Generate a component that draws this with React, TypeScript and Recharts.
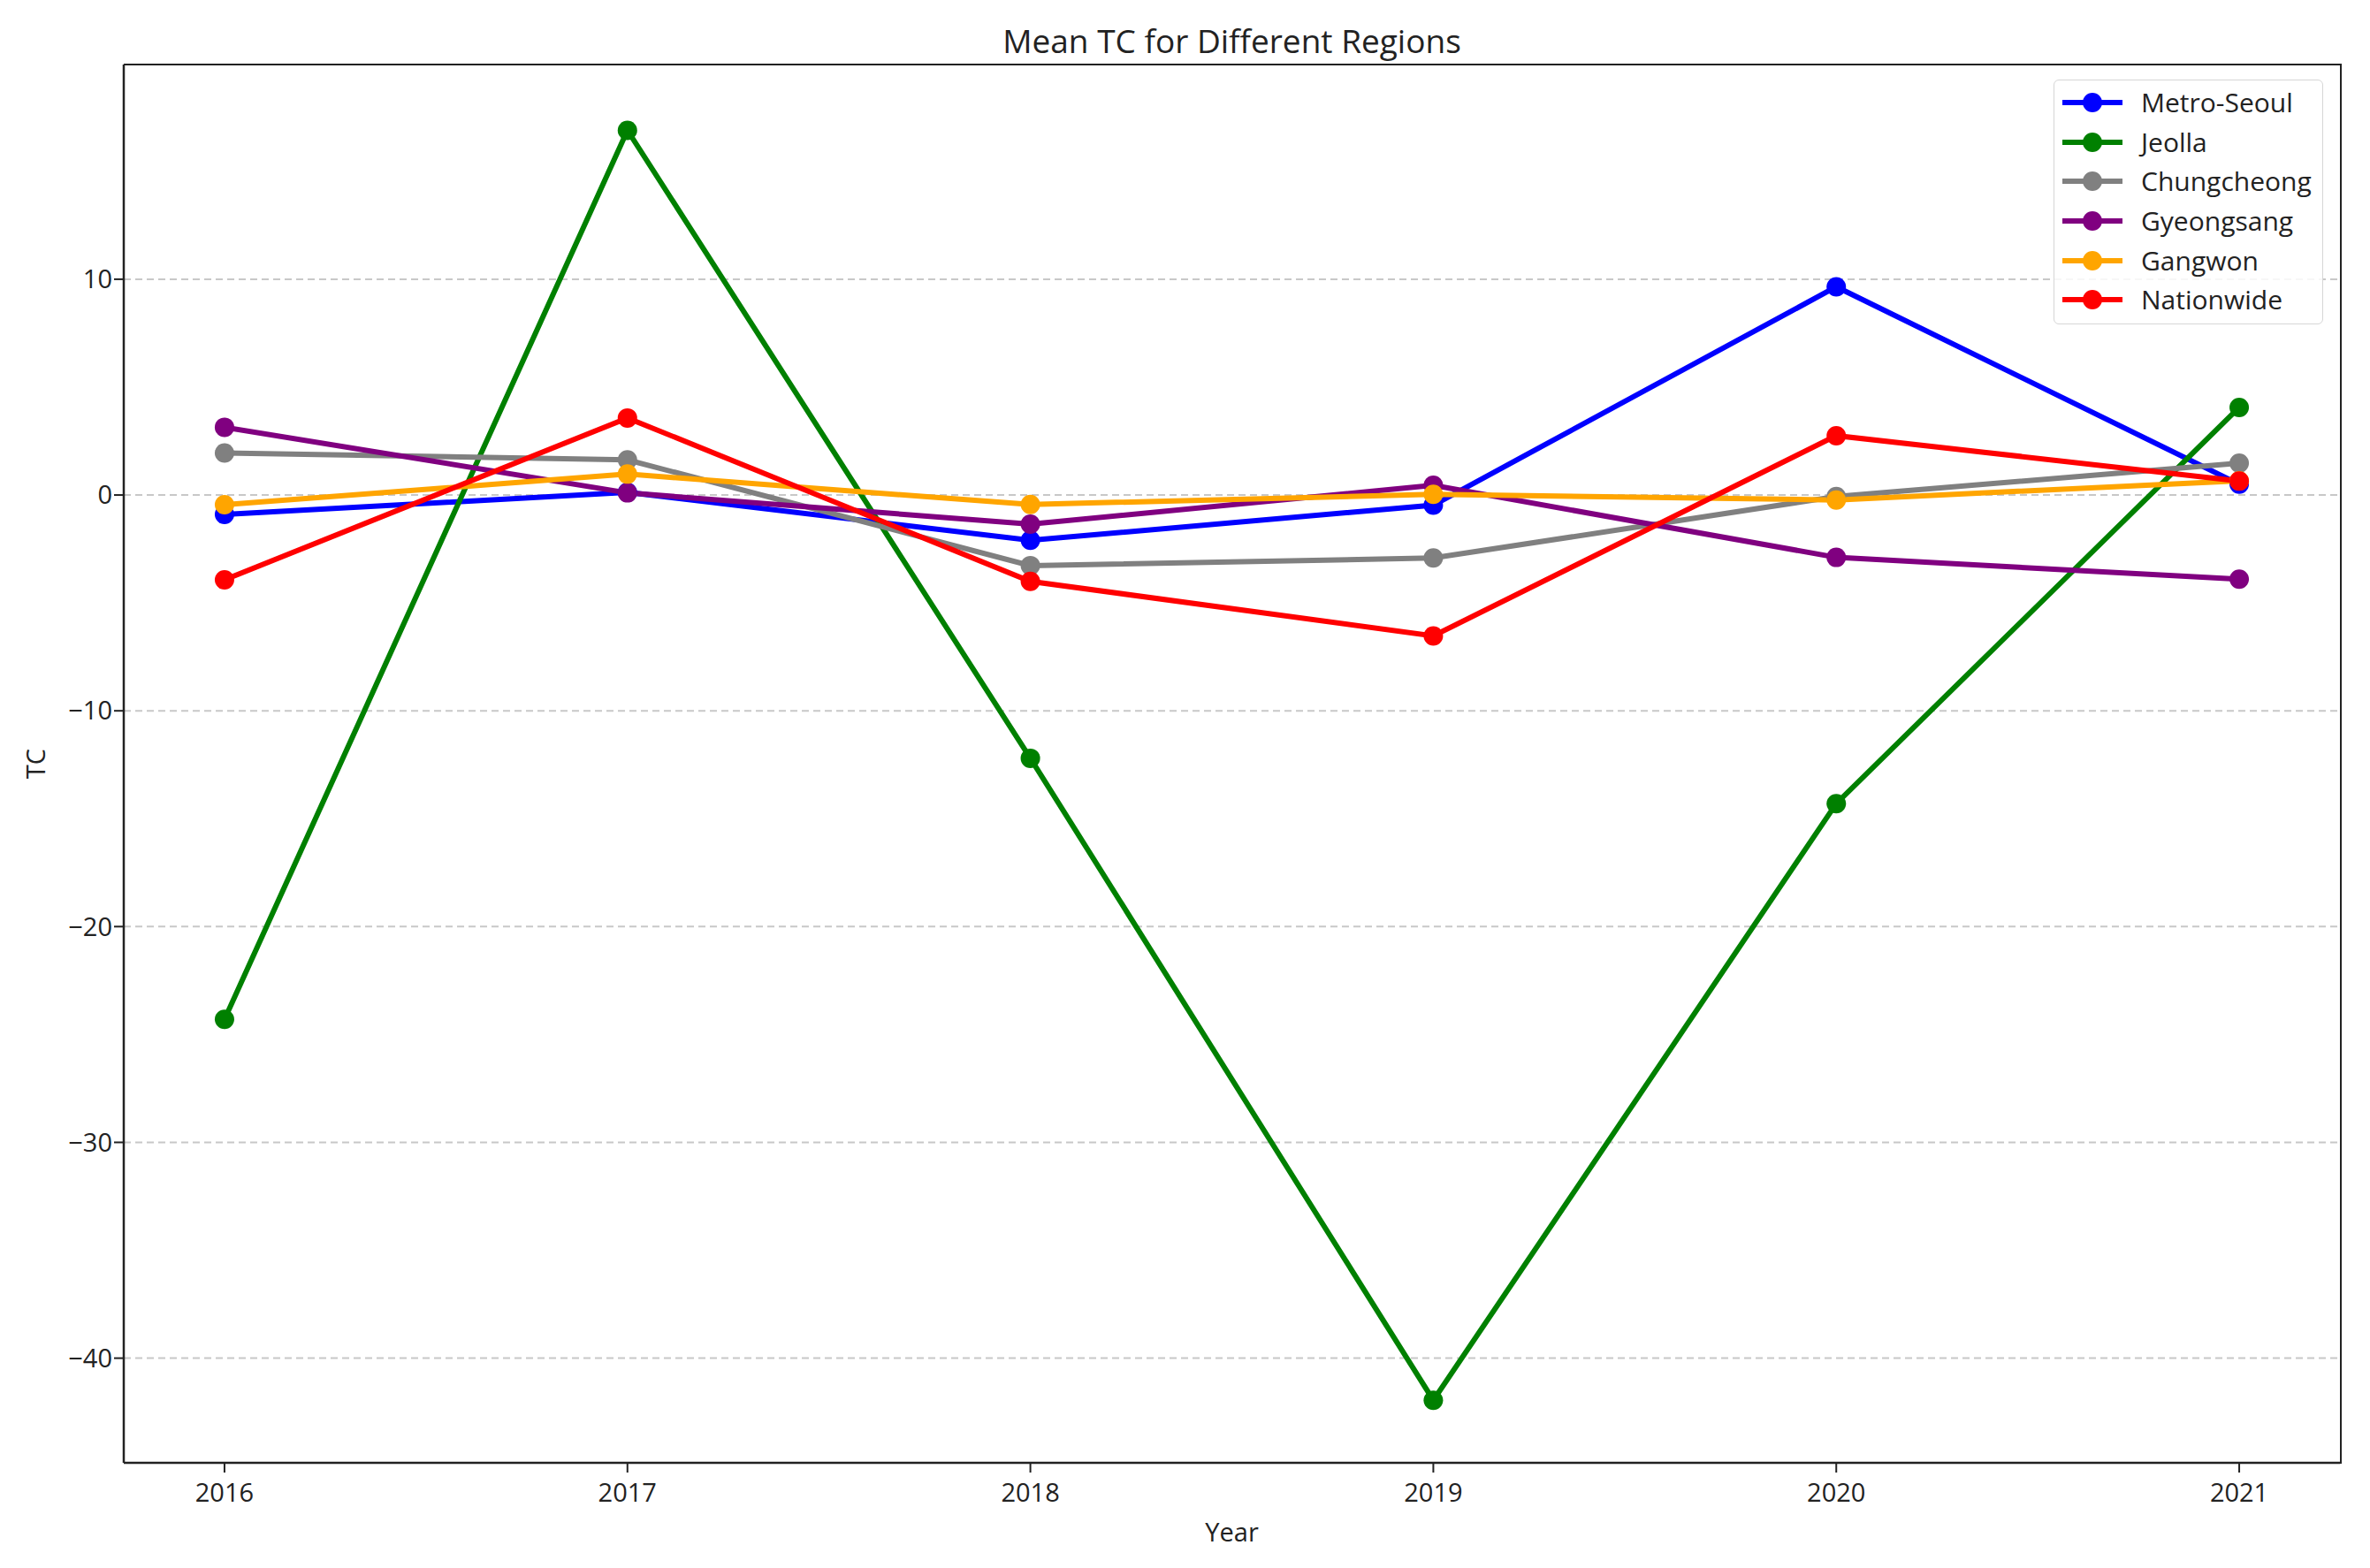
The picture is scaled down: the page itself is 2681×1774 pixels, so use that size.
import React from "react";
import { LineChart, Line, XAxis, YAxis, CartesianGrid } from "recharts";

const years = [2016, 2017, 2018, 2019, 2020, 2021];

const metroSeoul = [-0.9, 0.12, -2.1, -0.47, 9.65, 0.5];
const jeolla = [-24.3, 16.9, -12.2, -41.95, -14.3, 4.06];
const chungcheong = [1.95, 1.63, -3.27, -2.92, -0.07, 1.48];
const gyeongsang = [3.14, 0.1, -1.35, 0.45, -2.89, -3.9];
const gangwon = [-0.45, 0.97, -0.44, 0.03, -0.23, 0.66];
const nationwide = [-3.93, 3.57, -4.0, -6.53, 2.75, 0.65];

const yTicks = [-40, -30, -20, -10, 0, 10];

const series = [
  { key: "Metro-Seoul", color: "#0000ff", values: metroSeoul },
  { key: "Jeolla", color: "#008000", values: jeolla },
  { key: "Chungcheong", color: "#808080", values: chungcheong },
  { key: "Gyeongsang", color: "#800080", values: gyeongsang },
  { key: "Gangwon", color: "#ffa500", values: gangwon },
  { key: "Nationwide", color: "#ff0000", values: nationwide },
];

const data = years.map((year, i) => {
  const row: Record<string, number> = { year };
  series.forEach((s) => {
    row[s.key] = s.values[i];
  });
  return row;
});

const FONT = "'Open Sans', 'DejaVu Sans', sans-serif";
const TEXT = "#222";
const xDomain = [2015.75, 2021.25];
const yDomain = [-44.85, 19.95];

// plot area inside the chart svg
const PLOT = { left: 132, top: 65, right: 2639, bottom: 1647 };

// matplotlib-style unicode minus
const fmtY = (v: number) => (v < 0 ? `\u2212${Math.abs(v)}` : `${v}`);

const LegendBox = () => (
  <div
    style={{
      position: "absolute",
      left: 2315,
      top: 82,
      width: 305,
      height: 277,
      boxSizing: "border-box",
      border: "1.5px solid #d6d6d6",
      borderRadius: 6,
      background: "rgba(255,255,255,0.85)",
      paddingTop: 3,
    }}
  >
    {series.map((s) => (
      <div
        key={s.key}
        style={{ display: "flex", alignItems: "center", height: 44.6 }}
      >
        <svg width={90} height={30} style={{ flex: "none" }}>
          <line x1={9} y1={15} x2={77} y2={15} stroke={s.color} strokeWidth={6} />
          <circle cx={43} cy={15} r={11} fill={s.color} />
        </svg>
        <span
          style={{
            fontFamily: FONT,
            fontSize: 30,
            color: TEXT,
            marginLeft: 8,
            lineHeight: 1,
          }}
        >
          {s.key}
        </span>
      </div>
    ))}
  </div>
);

export default function App() {
  return (
    <div style={{ position: "relative", width: 2665, height: 1758 }}>
      <div
        style={{
          position: "absolute",
          left: PLOT.left,
          width: PLOT.right - PLOT.left,
          top: 12,
          textAlign: "center",
          fontFamily: FONT,
          fontSize: 37,
          color: TEXT,
        }}
      >
        Mean TC for Different Regions
      </div>
      <LineChart
        width={2665}
        height={1758}
        data={data}
        margin={{ top: 65, right: 26, bottom: 31, left: 32 }}
      >
        <CartesianGrid
          vertical={false}
          stroke="#c8c8c8"
          strokeWidth={2}
          strokeDasharray="8 5"
          horizontalValues={yTicks}
        />
        <XAxis
          dataKey="year"
          type="number"
          domain={xDomain}
          ticks={years}
          allowDataOverflow
          height={80}
          tickSize={11}
          tickMargin={12}
          axisLine={{ stroke: "#222", strokeWidth: 2.5 }}
          tickLine={{ stroke: "#222", strokeWidth: 2 }}
          tick={{ fontFamily: FONT, fontSize: 29, fill: TEXT }}
        />
        <YAxis
          type="number"
          domain={yDomain}
          ticks={yTicks}
          tickFormatter={fmtY}
          allowDataOverflow
          width={100}
          tickSize={11}
          tickMargin={2}
          axisLine={{ stroke: "#222", strokeWidth: 2.5 }}
          tickLine={{ stroke: "#222", strokeWidth: 2 }}
          tick={{ fontFamily: FONT, fontSize: 29, fill: TEXT }}
        />
        {series.map((s) => (
          <Line
            key={s.key}
            dataKey={s.key}
            stroke={s.color}
            strokeWidth={6}
            dot={{ r: 11, fill: s.color, stroke: s.color, strokeWidth: 0 }}
            activeDot={false}
            isAnimationActive={false}
          />
        ))}
      </LineChart>
      {/* top and right spines */}
      <div
        style={{
          position: "absolute",
          left: PLOT.left,
          top: PLOT.top - 1,
          width: PLOT.right - PLOT.left,
          height: PLOT.bottom - PLOT.top,
          borderTop: "2.5px solid #222",
          borderRight: "2.5px solid #222",
          pointerEvents: "none",
        }}
      />
      <LegendBox />
      <div
        style={{
          position: "absolute",
          left: PLOT.left,
          width: PLOT.right - PLOT.left,
          top: 1705,
          textAlign: "center",
          fontFamily: FONT,
          fontSize: 29,
          color: TEXT,
        }}
      >
        Year
      </div>
      <div
        style={{
          position: "absolute",
          left: 31,
          top: 856,
          transform: "translate(-50%, -50%) rotate(-90deg)",
          fontFamily: FONT,
          fontSize: 29,
          color: TEXT,
          whiteSpace: "nowrap",
        }}
      >
        TC
      </div>
    </div>
  );
}
